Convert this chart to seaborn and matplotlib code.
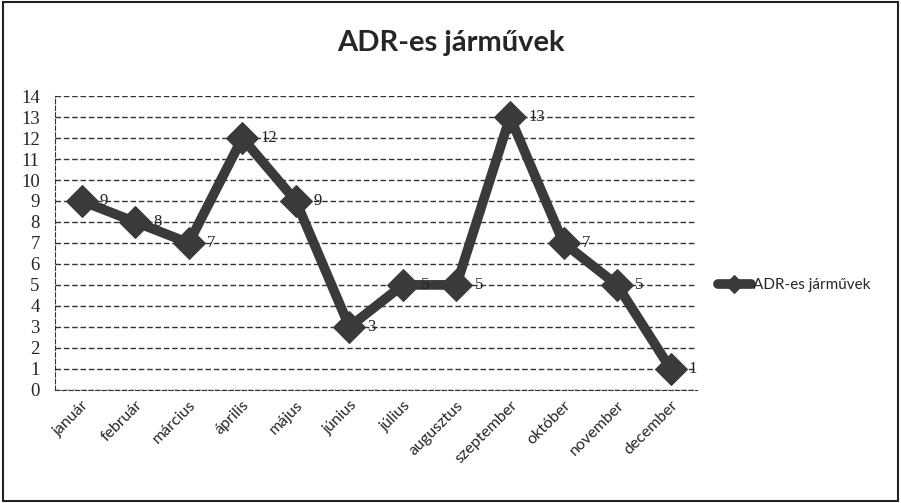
import pandas as pd
import matplotlib
matplotlib.use("Agg")
import matplotlib.pyplot as plt
import seaborn as sns

# data
months = ["január", "február", "március", "április", "május", "június",
          "július", "augusztus", "szeptember", "október", "november", "december"]
vehicles = [9, 8, 7, 12, 9, 3, 5, 5, 13, 7, 5, 1]
series_name = "ADR-es járművek"

df = pd.DataFrame({"honap": months, "db": vehicles, "sorozat": series_name})

sns.set_style("white")
plt.rcParams["font.family"] = ["Lato", "DejaVu Sans"]

fig = plt.figure(figsize=(9.01, 5.03), dpi=100)
ax = fig.add_axes([0.061, 0.225, 0.713, 0.584])

line_col = "#3a3a3a"
sns.lineplot(data=df, x="honap", y="db", hue="sorozat", palette=[line_col],
             marker="D", markersize=16, linewidth=7, sort=False, ax=ax,
             markeredgecolor=line_col)

for i, v in enumerate(vehicles):
    ax.annotate(str(v), (i, v), xytext=(13, 0), textcoords="offset points",
                va="center", ha="left", fontsize=12, color="#222222",
                family=["Liberation Serif"])

ax.set_xlim(-0.5, len(months) - 0.5)
ax.set_ylim(0, 14)
ax.set_yticks(range(0, 15))
ax.yaxis.grid(True, color="#333333", linestyle=(0, (4, 2)), linewidth=1)
ax.xaxis.grid(False)
for s in ["top", "right"]:
    ax.spines[s].set_visible(False)
for s in ["left", "bottom"]:
    ax.spines[s].set_color("#333333")
    ax.spines[s].set_linestyle((0, (4, 2)))

ax.set_xticks([i + 0.5 for i in range(-1, len(months))], minor=True)
ax.tick_params(axis="x", which="minor", length=4, color="#333333", direction="out")
ax.tick_params(axis="x", which="major", length=0, pad=6)
ax.tick_params(axis="y", length=3, color="#333333", pad=8)
ax.set_xticks(range(len(months)))
ax.set_xticklabels(months, rotation=45, ha="right", rotation_mode="anchor",
                   fontsize=11.5)
for lbl in ax.get_yticklabels():
    lbl.set_family(["Liberation Serif"])
    lbl.set_fontsize(13.5)

ax.set_xlabel("")
ax.set_ylabel("")

ax.legend(loc="center left", bbox_to_anchor=(1.01, 0.357), frameon=False,
          handlelength=2.2, handletextpad=0.1, fontsize=11, markerscale=0.6)

fig.text(0.5, 0.915, "ADR-es járművek", ha="center", va="center",
         fontsize=21, fontweight="bold")

# frame around the whole chart
fig.patches.append(plt.Rectangle((0.003, 0.003), 0.994, 0.994, fill=False,
                                 transform=fig.transFigure, color="#222222",
                                 linewidth=1.5))

fig.savefig("out.png", dpi=100)
